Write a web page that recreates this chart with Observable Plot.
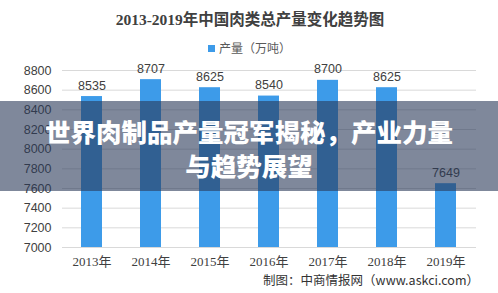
<!DOCTYPE html>
<html>
<head>
<meta charset="utf-8">
<script src="https://cdn.jsdelivr.net/npm/d3@7"></script>
<script src="https://cdn.jsdelivr.net/npm/@observablehq/plot@0.6"></script>
<style>
  html, body { margin: 0; padding: 0; background: #fff; }
  #wrap { position: relative; width: 498px; height: 293px; overflow: hidden; font-family: "Noto Sans CJK SC", "Noto Sans", sans-serif; }
  #wrap svg { position: absolute; left: 0; top: 0; }
  .title { position: absolute; left: 0; width: 500px; top: 10px; line-height: 20px; text-align: center; font-family: "Liberation Serif", "Noto Sans CJK SC", serif; font-weight: bold; font-size: 15.5px; color: #404040; }
  .legend { position: absolute; left: 208px; top: 40px; line-height: 16px; font-size: 12px; color: #595959; display: flex; align-items: center; }
  .legend .sw { width: 7px; height: 7px; background: #3d9be9; margin-right: 4px; }
  .caption { position: absolute; right: 19px; top: 273px; line-height: 14px; font-size: 12.5px; color: #333; }
  .banner { position: absolute; left: 0; top: 101px; width: 498px; height: 90px; background: rgba(42,56,88,0.6); }
  .banner div { position: absolute; width: 498px; text-align: center; color: #fff; font-weight: 900; font-size: 25.5px; line-height: 30px; }
</style>
</head>
<body>
<div id="wrap"></div>
<script>
const years = ["2013年", "2014年", "2015年", "2016年", "2017年", "2018年", "2019年"];
const output = [8535, 8707, 8625, 8540, 8700, 8625, 7649];
const yTicks = [7000, 7200, 7400, 7600, 7800, 8000, 8200, 8400, 8600, 8800];
const titleText = "2013-2019年中国肉类总产量变化趋势图";
const legendText = "产量（万吨）";
const captionText = "制图：中商情报网（www.askci.com）";
const bannerLines = ["世界肉制品产量冠军揭秘，产业力量", "与趋势展望"];

const data = years.map((y, i) => ({year: y, value: output[i]}));

const chart = Plot.plot({
  width: 498,
  height: 293,
  marginLeft: 62,
  marginRight: 22,
  marginTop: 70,
  marginBottom: 46,
  style: {background: "transparent", fontFamily: "Liberation Sans, Noto Sans CJK SC, sans-serif", overflow: "visible"},
  x: {domain: years, paddingInner: 0.64, paddingOuter: 0.32, label: null},
  y: {domain: [7000, 8800], label: null},
  marks: [
    Plot.ruleY(yTicks, {stroke: "#d9d9d9", strokeWidth: 1}),
    Plot.barY(data, {x: "year", y1: 7000, y2: "value", fill: "#3d9be9"}),
    Plot.text(data, {x: "year", y: "value", text: d => String(d.value), dy: -11, fontSize: 12.5, fill: "#404040", fontFamily: "Liberation Sans, sans-serif"}),
    Plot.axisY({ticks: yTicks, tickSize: 0, tickPadding: 11, fontSize: 12.5, color: "#404040", tickFormat: d => String(d), label: null}),
    Plot.axisX({tickSize: 0, tickPadding: 9, fontSize: 13, color: "#404040", fontFamily: "Liberation Serif, Noto Sans CJK SC, serif", label: null})
  ]
});

const wrap = document.getElementById("wrap");
wrap.appendChild(chart);

const t = document.createElement("div");
t.className = "title"; t.textContent = titleText; wrap.appendChild(t);

const lg = document.createElement("div");
lg.className = "legend";
lg.innerHTML = '<span class="sw"></span><span></span>';
lg.lastChild.textContent = legendText;
wrap.appendChild(lg);

const cap = document.createElement("div");
cap.className = "caption"; cap.textContent = captionText; wrap.appendChild(cap);

const banner = document.createElement("div");
banner.className = "banner";
bannerLines.forEach((line, i) => {
  const d = document.createElement("div");
  d.style.top = (15 + i * 34) + "px";
  d.textContent = line;
  banner.appendChild(d);
});
wrap.appendChild(banner);
</script>
</body>
</html>
